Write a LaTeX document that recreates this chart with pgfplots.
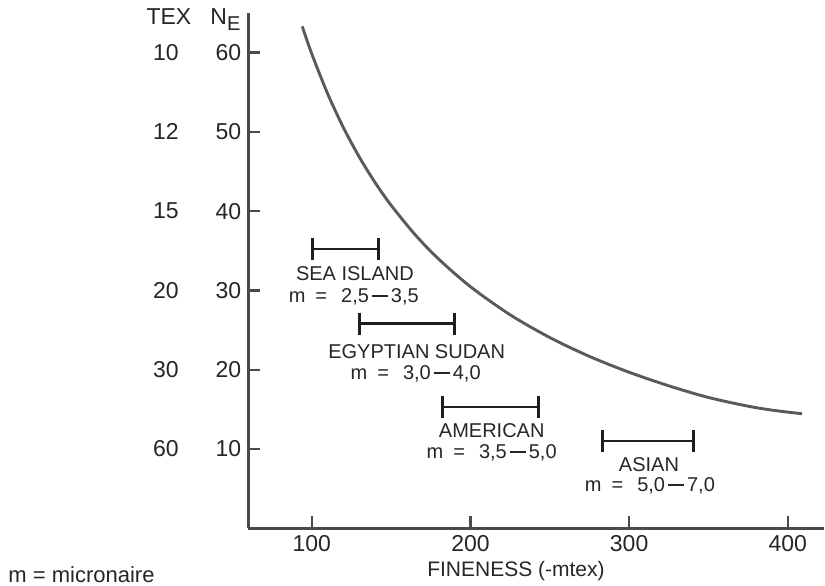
\documentclass[border=0pt]{standalone}
\usepackage{pgfplots}
\pgfplotsset{compat=1.18}
\usepackage{fontspec}
\setmainfont{Liberation Sans}

\definecolor{axisgray}{HTML}{4A4A4A}
\definecolor{curvegray}{HTML}{5A5A5A}
\definecolor{barblack}{HTML}{1E1E1E}

% long dash used in the micronaire ranges
\newcommand\rdash{\kern1.5pt\rule[0.28em]{0.8em}{0.075em}\kern1.5pt}
\newcommand\mrange[2]{m\hspace{5pt}=\hspace{7pt}#1\rdash#2}

\begin{document}
\begin{tikzpicture}
% page frame: 1 px of the layout = 0.5 pt, axis corner at the origin
\useasboundingbox (-124.15pt,-28.35pt) rectangle (288.35pt,264.15pt);
\begin{axis}[
  at={(0,0)}, anchor=south west,
  scale only axis,
  width=288.0pt, height=257.7pt,
  xmin=60, xmax=423, ymin=0, ymax=65,
  axis x line=bottom, axis y line=left,
  axis line style={-, line width=1.6pt, axisgray},
  xtick={100,200,300,400},
  ytick={10,20,30,40,50,60},
  tick align=inside,
  major tick length=6pt,
  tick style={line width=1.2pt, axisgray},
  /pgf/number format/assume math mode=true,
  ticklabel style={font=\fontsize{11.5}{13}\selectfont, text=black!85},
  clip=false,
]
% count / fineness curve
\addplot[curvegray, line width=1.45pt, smooth] coordinates {
  (94,63.3) (100,59.84) (110,54.81) (120,50.51) (130,46.81) (140,43.58)
  (150,40.74) (165,37.06) (180,33.95) (200,30.47) (225,26.93) (250,24.06)
  (275,21.68) (300,19.68) (325,17.97) (350,16.50) (375,15.40) (392,14.85)
  (409,14.45)
};
% fineness ranges of the cotton groups
\pgfplotsset{range bar/.style={barblack, line width=1.3pt, mark=|,
  mark size=5.5pt, mark options={line width=1.6pt}}}
\addplot[range bar] coordinates {(100.4,35.2) (142.3,35.2)};
\addplot[range bar] coordinates {(129.9,25.8) (189.8,25.8)};
\addplot[range bar] coordinates {(182.2,15.3) (242.9,15.3)};
\addplot[range bar] coordinates {(283.0,11.0) (340.4,11.0)};

% group labels
\begin{scope}[every node/.style={font=\fontsize{10}{12}\selectfont, text=black!85, inner sep=0pt}]
\node at (axis cs:127.2,32.1) {SEA ISLAND};
\node at (axis cs:126.5,29.2) {\mrange{2,5}{3,5}};
\node at (axis cs:166.1,22.3) {EGYPTIAN SUDAN};
\node at (axis cs:165.5,19.5) {\mrange{3,0}{4,0}};
\node at (axis cs:213.4,12.3) {AMERICAN};
\node at (axis cs:213.4,9.55) {\mrange{3,5}{5,0}};
\node at (axis cs:312.5,7.98) {ASIAN};
\node at (axis cs:313.1,5.35) {\mrange{5,0}{7,0}};
\end{scope}

% second scale: tex values beside the English count
\begin{scope}[every node/.style={font=\fontsize{11.5}{13}\selectfont, text=black!85, inner sep=0pt}]
\node at (axis cs:8.1,60) {10};
\node at (axis cs:8.1,50) {12};
\node at (axis cs:8.1,40) {15};
\node at (axis cs:8.1,30) {20};
\node at (axis cs:8.1,20) {30};
\node at (axis cs:8.1,10) {60};
\node[anchor=base] at (axis cs:10.0,63.5) {TEX};
\node[anchor=base west] at (axis cs:35.9,63.5) {N\raisebox{-3pt}{\fontsize{10}{12}\selectfont E}};
\end{scope}
\node[inner sep=0pt, font=\fontsize{10.5}{12}\selectfont, text=black!85]
  at (axis cs:228.7,-5.45) {FINENESS (-mtex)};
\node[anchor=west, inner sep=0pt, font=\fontsize{11}{13}\selectfont, text=black!85]
  at (axis cs:-91.4,-5.9) {m = micronaire};
\end{axis}
\end{tikzpicture}
\end{document}
